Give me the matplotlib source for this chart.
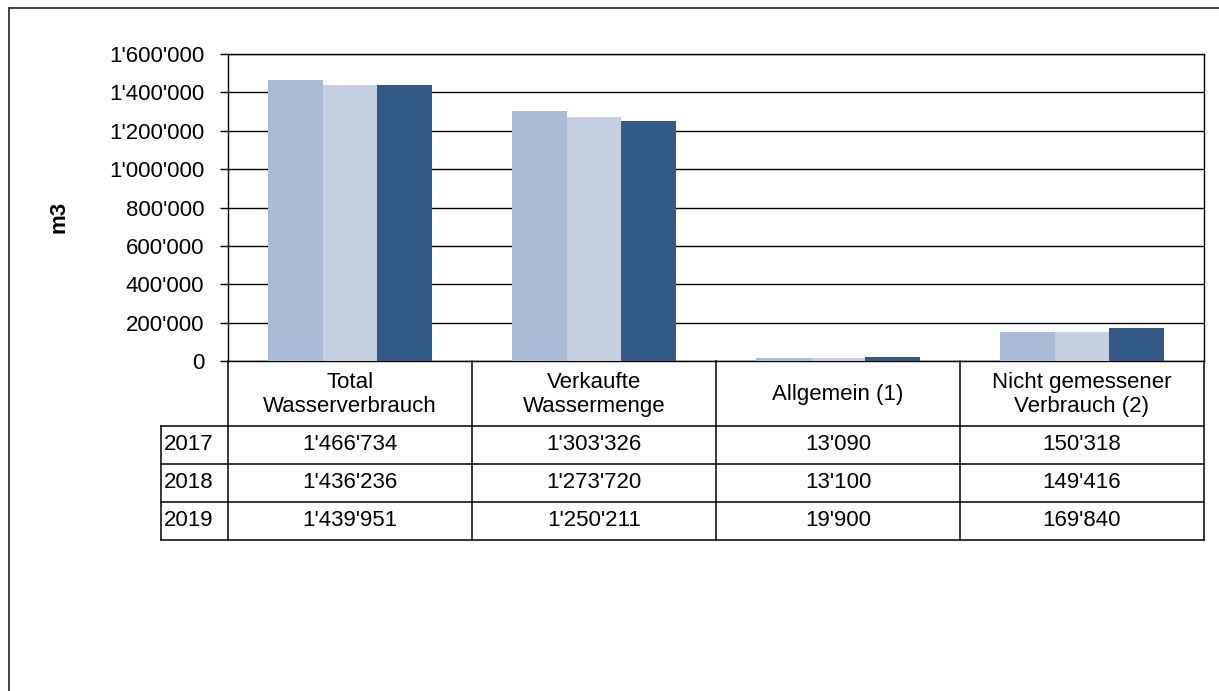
import matplotlib
matplotlib.use("Agg")
import matplotlib.pyplot as plt
from matplotlib.lines import Line2D
from matplotlib.ticker import FuncFormatter

plt.rcParams["font.family"] = ["Liberation Sans", "DejaVu Sans"]

categories = ["Total\nWasserverbrauch", "Verkaufte\nWassermenge", "Allgemein (1)",
              "Nicht gemessener\nVerbrauch (2)"]
years = ["2017", "2018", "2019"]
v2017 = [1466734, 1303326, 13090, 150318]
v2018 = [1436236, 1273720, 13100, 149416]
v2019 = [1439951, 1250211, 19900, 169840]
colors = ["#aabbd7", "#c4cfe2", "#335a86"]

FS = 16
W, H = 1219, 691
fig = plt.figure(figsize=(W / 100, H / 100), dpi=100)

# figure frame (top and left only visible)
fig.add_artist(Line2D([9 / W, 1], [1 - 8 / H, 1 - 8 / H], color="#333333", lw=1.3))
fig.add_artist(Line2D([9 / W, 9 / W], [0, 1 - 8 / H], color="#333333", lw=1.3))

ax_l, ax_r, ax_t, ax_b = 228, 1204, 54, 361
ax = fig.add_axes([ax_l / W, 1 - ax_b / H, (ax_r - ax_l) / W, (ax_b - ax_t) / H])

series = [v2017, v2018, v2019]
bw = 0.223
x = list(range(len(categories)))
for k, (vals, c) in enumerate(zip(series, colors)):
    ax.bar([i + (k - 1) * bw for i in x], vals, width=bw, color=c, zorder=3)

ax.set_xlim(-0.5, len(categories) - 0.5)
ax.set_ylim(0, 1600000)
ax.set_yticks(range(0, 1600001, 200000))
ax.yaxis.set_major_formatter(FuncFormatter(lambda v, p: f"{int(v):,}".replace(",", "'")))
ax.set_xticks([])
ax.grid(axis="y", color="black", lw=1.0, zorder=1)
ax.tick_params(axis="y", length=6, width=1, pad=11, labelsize=FS)
for s in ax.spines.values():
    s.set_linewidth(1.0)
ax.set_ylabel("m3", fontsize=FS, fontweight="bold")
ax.yaxis.set_label_coords(-158 / (ax_r - ax_l), 0.47)

# data table below the axes
tb_l, tb_t, tb_b = 161, 361, 540
unit = (ax_r - ax_l) / len(categories)
x0 = -0.5 - (ax_l - tb_l) / unit
axt = fig.add_axes([tb_l / W, 1 - tb_b / H, (ax_r - tb_l) / W, (tb_b - tb_t) / H])
axt.set_xlim(x0, len(categories) - 0.5)
axt.set_ylim(tb_b - tb_t, 0)
axt.axis("off")

hdr = 65
row_h = 38
lw = 1.1
edges = [i - 0.5 for i in range(len(categories) + 1)]
for e in edges:
    axt.plot([e, e], [0, hdr + row_h * len(years)], color="black", lw=lw, clip_on=False)
axt.plot([x0, x0], [hdr, hdr + row_h * len(years)], color="black", lw=lw, clip_on=False)
for r in range(len(years) + 1):
    y = hdr + r * row_h
    axt.plot([x0, edges[-1]], [y, y], color="black", lw=lw, clip_on=False)

for i, cat in enumerate(categories):
    axt.text(i, hdr / 2 + 1, cat, ha="center", va="center", fontsize=FS,
             linespacing=1.15)
for r, (yr, vals) in enumerate(zip(years, series)):
    yc = hdr + r * row_h + row_h / 2
    axt.text(x0 + 0.01, yc, yr, ha="left", va="center", fontsize=FS)
    for i, v in enumerate(vals):
        axt.text(i, yc, f"{v:,}".replace(",", "'"), ha="center", va="center", fontsize=FS)

fig.savefig("out.png", dpi=100)
